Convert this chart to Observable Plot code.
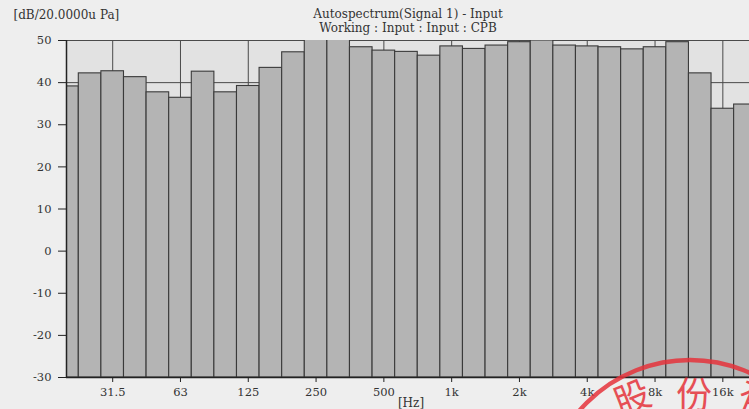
<!DOCTYPE html>
<html>
<head>
<meta charset="utf-8">
<script src="https://cdn.jsdelivr.net/npm/d3@7"></script>
<script src="https://cdn.jsdelivr.net/npm/@observablehq/plot@0.6"></script>
<style>
  html, body { margin: 0; padding: 0; background: #eeeeee; }
  #wrap { position: relative; width: 749px; height: 409px; overflow: hidden; }
  #seal { position: absolute; left: 0; top: 0; pointer-events: none; }
</style>
</head>
<body>
<div id="wrap"></div>
<script>
// 1/3-octave band centre frequencies
const bands = ["20","25","31.5","40","50","63","80","100","125","160","200","250","315","400","500","630","800","1k","1.25k","1.6k","2k","2.5k","3.15k","4k","5k","6.3k","8k","10k","12.5k","16k","20k"];
// band levels, dB re 20 µPa
const levels = [39.1, 42.2, 42.7, 41.3, 37.7, 36.4, 42.6, 37.7, 39.2, 43.5, 47.2, 50.2, 50.4, 48.4, 47.6, 47.3, 46.4, 48.6, 48.0, 48.8, 49.6, 50.0, 48.8, 48.6, 48.4, 47.9, 48.4, 49.6, 42.2, 33.8, 34.8];
// labelled x ticks
const xTickLabels = ["31.5","63","125","250","500","1k","2k","4k","8k","16k"];
// y ticks
const yTicks = [-30, -20, -10, 0, 10, 20, 30, 40, 50];

const titleLines = ["Autospectrum(Signal 1) - Input", "Working : Input : Input : CPB"];
const yUnit = "[dB/20.0000u Pa]";
const xUnit = "[Hz]";

const data = bands.map((b, i) => ({i, band: b, level: levels[i]}));
const xTicks = xTickLabels.map(l => bands.indexOf(l));
const xLo = -0.044, xHi = 30.18;

const ink = "#333";
const chart = Plot.plot({
  width: 749,
  height: 409,
  marginLeft: 66,
  marginRight: 0,
  marginTop: 40,
  marginBottom: 32,
  x: {type: "linear", domain: [xLo, xHi]},
  y: {domain: [-30, 50]},
  style: {fontFamily: "DejaVu Serif", fontSize: "11.5px", background: "transparent", color: ink},
  marks: [
    Plot.frame({fill: "#e2e2e2", stroke: null}),
    Plot.gridX(xTicks, {stroke: "#4a4a4a", strokeOpacity: 1, strokeWidth: 1}),
    Plot.gridY(yTicks, {stroke: "#4a4a4a", strokeOpacity: 1, strokeWidth: 1}),
    Plot.rectY(data, {
      x1: d => d.i - 0.5, x2: d => d.i + 0.5, y1: -30, y2: "level",
      fill: "#b4b4b4", stroke: "#3a3a3a", strokeWidth: 1.1, clip: true
    }),
    Plot.ruleX([xLo], {stroke: "#222", strokeWidth: 1.5}),
    Plot.ruleY([-30], {stroke: "#222", strokeWidth: 1.5}),
    Plot.axisY(yTicks, {tickSize: 8, tickPadding: 7, label: null, stroke: "#222", fill: ink, tickFormat: d => String(d)}),
    Plot.axisX(xTicks, {tickFormat: i => bands[i], tickSize: 5, tickPadding: 5, label: null, stroke: "#222", fill: ink}),
    Plot.text([titleLines[0]], {text: d => d, frameAnchor: "top", lineAnchor: "middle", dy: -26, fontSize: 12, fill: ink, style: "letter-spacing:0.4px"}),
    Plot.text([titleLines[1]], {text: d => d, frameAnchor: "top", lineAnchor: "middle", dy: -12, fontSize: 12, fill: ink}),
    Plot.text([yUnit], {text: d => d, frameAnchor: "top-left", lineAnchor: "middle", textAnchor: "start", dx: -53, dy: -25, fontSize: 12, fill: ink}),
    Plot.text([xUnit], {text: d => d, frameAnchor: "bottom", lineAnchor: "middle", dx: 3, dy: 26, fontSize: 12, fill: ink})
  ]
});
document.getElementById("wrap").appendChild(chart);

// red company seal overlay (decoration of the scanned document)
const ns = "http://www.w3.org/2000/svg";
const seal = document.createElementNS(ns, "svg");
seal.setAttribute("id", "seal");
seal.setAttribute("width", 749);
seal.setAttribute("height", 409);
const ring = document.createElementNS(ns, "circle");
ring.setAttribute("cx", 690); ring.setAttribute("cy", 506); ring.setAttribute("r", 146);
ring.setAttribute("fill", "none"); ring.setAttribute("stroke", "#e5333b"); ring.setAttribute("stroke-width", 4.5);
ring.setAttribute("opacity", 0.85);
seal.appendChild(ring);
const sealChars = [["股", 637, 410, -22], ["份", 694, 408, 0], ["有", 752, 410, 22]];
for (const [c, x, y, r] of sealChars) {
  const t = document.createElementNS(ns, "text");
  t.textContent = c;
  t.setAttribute("x", x); t.setAttribute("y", y);
  t.setAttribute("text-anchor", "middle");
  t.setAttribute("font-family", "Noto Sans CJK SC");
  t.setAttribute("font-size", 36);
  t.setAttribute("fill", "#e5333b");
  t.setAttribute("opacity", 0.85);
  t.setAttribute("transform", `rotate(${r} ${x} ${y})`);
  seal.appendChild(t);
}
document.getElementById("wrap").appendChild(seal);
</script>
</body>
</html>
